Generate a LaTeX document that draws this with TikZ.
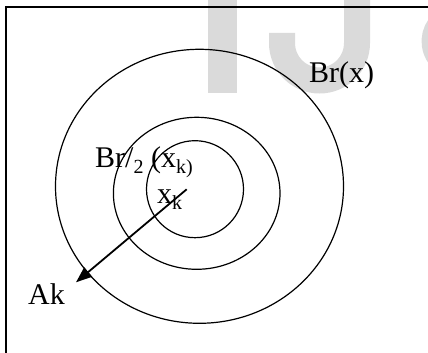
\documentclass[tikz,border=0pt]{standalone}
\usepackage{fontspec}
\setmainfont{Liberation Serif}
\definecolor{markgray}{RGB}{218, 218, 218}
\usetikzlibrary{
    arrows.meta,
    positioning,
    calc
}
\newcommand{\lowsub}[1]{\raisebox{-0.17em}{\fontsize{20}{20}\selectfont #1}}

\begin{document}
\begin{tikzpicture}[x=1pt, y=1pt,
    ring/.style={draw, line width=1.2pt},
    lbl/.style={anchor=base west, inner sep=0pt, font=\fontsize{30}{36}\selectfont}]
                    \useasboundingbox (0,0) rectangle (428,353);
                    
                    % watermark behind the figure
                    \begin{scope}
                        \clip (0,0) rectangle (428,353);
                        \fill[markgray] (208,260) rectangle (237,360);
                        \draw[markgray, line width=26pt] (357,360) -- (357,310)
                            arc[start angle=0, end angle=-180, radius=37.5] -- (282,320);
                        \draw[markgray, line width=20pt] (450,338) arc[start angle=110, end angle=235, radius=28];
                    \end{scope}
                    
                    % frame
                    \draw[line width=2.2pt] (6,0) -- (6,345.7) -- (430,345.7);
                    
                    % balls round x_k
                    \draw[ring] (199.5,166.7) ellipse[x radius=144, y radius=137];
                    \draw[ring] (196.7,159.7) ellipse[x radius=83.3, y radius=76];
                    \draw[ring] (195,163.8) circle[radius=48.5];
                    
                    % labels
                    \node[lbl] (br) at (309,270) {Br(x)};
                    \node[lbl] (brhalf) at (95,185) {Br/\lowsub{2} (x\lowsub{k)}};
                    \node[lbl] (xklbl) at (157,149) {x\lowsub{k}};
                    \node[lbl] (aklbl) at (28,48) {Ak};
                    
                    % arrow from x_k towards A_k
                    \coordinate (xk) at (186.7,163.7);
                    \coordinate (ak) at (76,70.7);
                    \draw[line width=1.8pt, -{Triangle[length=16pt, width=12pt]}] (xk) -- (ak);
                \end{tikzpicture}
\end{document}
